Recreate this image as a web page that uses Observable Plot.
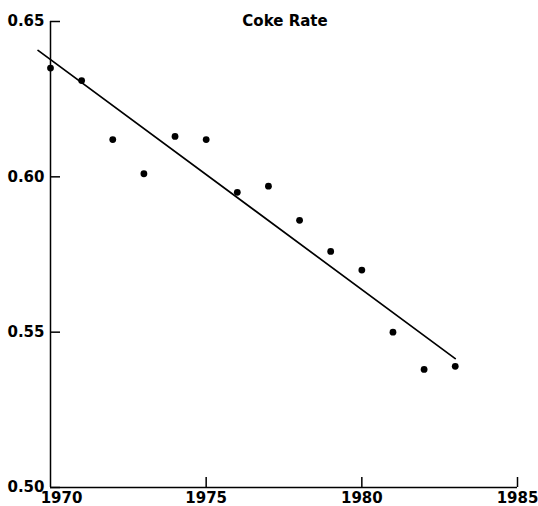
<!DOCTYPE html>
<html>
<head>
<meta charset="utf-8">
<script src="https://cdn.jsdelivr.net/npm/d3@7"></script>
<script src="https://cdn.jsdelivr.net/npm/@observablehq/plot@0.6"></script>
<style>
  html, body { margin: 0; padding: 0; background: #fff; }
  #chart svg { overflow: visible; }
</style>
</head>
<body>
<div id="chart"></div>
<script>
const years = [1970, 1971, 1972, 1973, 1974, 1975, 1976, 1977, 1978, 1979, 1980, 1981, 1982, 1983];
const cokeRate = [0.635, 0.631, 0.612, 0.601, 0.613, 0.612, 0.595, 0.597, 0.586, 0.576, 0.570, 0.550, 0.538, 0.539];
const fitYears = [1969.6, 1983.0];
const fitRate = [0.6407, 0.5415];
const xTicks = [1970, 1975, 1980, 1985];
const yTicks = [0.50, 0.55, 0.60, 0.65];
const title = "Coke Rate";

const points = years.map((y, i) => ({year: y, rate: cokeRate[i]}));
const fit = fitYears.map((y, i) => ({year: y, rate: fitRate[i]}));

const font = "'DejaVu Sans', sans-serif";

const chart = Plot.plot({
  width: 538,
  height: 506,
  marginLeft: 50,
  marginRight: 21,
  marginTop: 21,
  marginBottom: 19,
  style: {fontFamily: font, fontSize: "15px", fontWeight: "bold", color: "#000", background: "#fff", overflow: "visible"},
  x: {domain: [1970, 1985]},
  y: {domain: [0.50, 0.65]},
  marks: [
    Plot.ruleX([xTicks[0]], {stroke: "#000", strokeWidth: 1.5}),
    Plot.ruleY([yTicks[0]], {stroke: "#000", strokeWidth: 1.5}),
    Plot.axisY(yTicks, {
      anchor: "left", tickSize: -10, tickPadding: 16, strokeWidth: 1.5,
      tickFormat: d3.format(".2f"), fontSize: 15, fontWeight: "bold", label: null
    }),
    Plot.axisX(xTicks.slice(1), {
      anchor: "bottom", tickSize: -10, tickPadding: 15, strokeWidth: 1.5,
      tickFormat: d => String(d), fontSize: 15, fontWeight: "bold", label: null
    }),
    Plot.axisX(xTicks.slice(0, 1), {
      anchor: "bottom", tickSize: 0, tickPadding: 5, dx: 11,
      tickFormat: d => String(d), fontSize: 15, fontWeight: "bold", label: null
    }),
    Plot.line(fit, {x: "year", y: "rate", stroke: "#000", strokeWidth: 1.7, clip: false}),
    Plot.dot(points, {x: "year", y: "rate", r: 3.4, fill: "#000", stroke: "none"}),
    Plot.text([title], {frameAnchor: "top", text: d => d, fontSize: 15, fontWeight: "bold", lineAnchor: "middle", dx: 1})
  ]
});
document.getElementById("chart").append(chart);
</script>
</body>
</html>
